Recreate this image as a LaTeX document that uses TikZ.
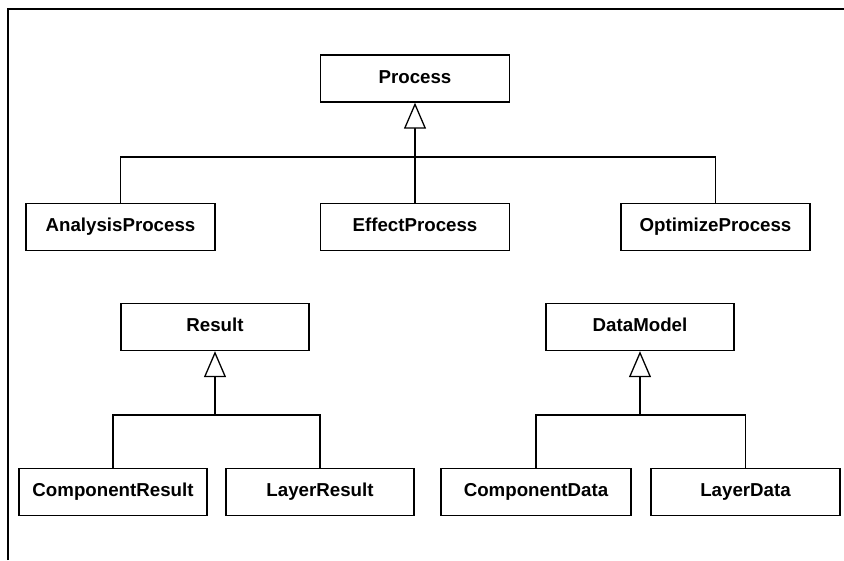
\documentclass[tikz,border=0pt]{standalone}
\usepackage{fontspec}
\setmainfont{Liberation Sans}
\usetikzlibrary{arrows.meta}
\begin{document}
\begin{tikzpicture}[x=1pt,y=-1pt,
  cls/.style={draw=black,line width=1.4pt,fill=white,minimum height=47pt,minimum width=189pt,inner sep=0pt,
    text height=13.4pt,text depth=4pt,
    font=\fontsize{18.7}{20}\selectfont\bfseries},
  link/.style={draw=black,line width=1.3pt},
  inh/.style={link,-{Triangle[open,length=26pt,width=22pt,fill=white]}}]
\useasboundingbox (0,0) rectangle (844,560);
\draw[line width=2pt] (8,560) -- (8,9) -- (844,9);
% Process hierarchy
\node[cls] (process) at (415,78.5) {Process};
\node[cls] (analysis) at (120.5,227) {AnalysisProcess};
\node[cls] (effect) at (415,227) {EffectProcess};
\node[cls] (optimize) at (715.5,227) {OptimizeProcess};
\coordinate (pbar) at (415,157);
\draw[link] (analysis.north) |- (pbar) -| (optimize.north);
\draw[inh] (effect.north) -- (process.south);
% Result hierarchy
\node[cls,minimum width=188pt] (result) at (215,327) {Result};
\node[cls,minimum width=188pt] (compres) at (113,492) {ComponentResult};
\node[cls,minimum width=188pt] (layres) at (320,492) {LayerResult};
\coordinate (rbar) at (215,415);
\draw[link] (compres.north) |- (rbar) -| (layres.north);
\draw[inh] (rbar) -- (result.south);
% DataModel hierarchy
\node[cls,minimum width=188pt] (datamodel) at (640,327) {DataModel};
\node[cls,minimum width=190pt] (compdata) at (536,492) {ComponentData};
\node[cls,minimum width=189pt] (laydata) at (745.5,492) {LayerData};
\coordinate (dbar) at (640,415);
\draw[link] (compdata.north) |- (dbar) -| (laydata.north);
\draw[inh] (dbar) -- (datamodel.south);
\end{tikzpicture}
\end{document}
